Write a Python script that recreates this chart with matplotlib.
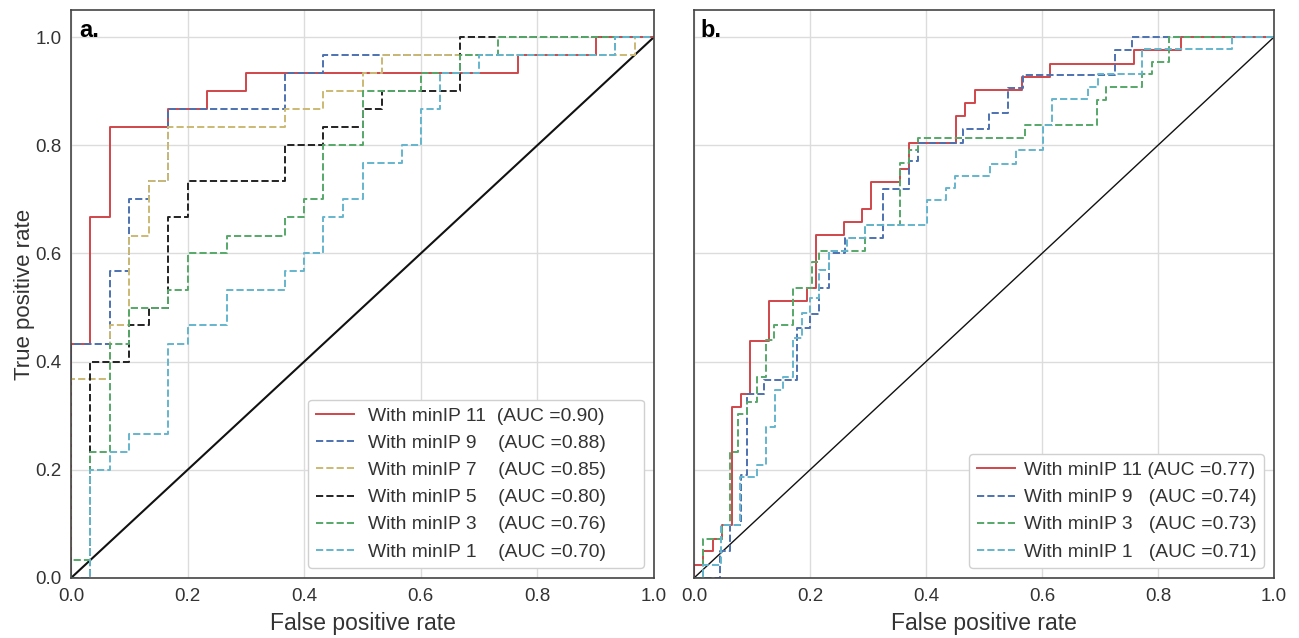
import matplotlib
matplotlib.use("Agg")
import matplotlib.pyplot as plt

plt.rcParams['font.family'] = ['Liberation Sans', 'DejaVu Sans']

# colours (seaborn-like colour codes r, b, y, k, g, c)
RED, BLUE, GOLD, BLACK, GREEN, CYAN = '#D0454A', '#4C72B0', '#CCB974', '#222222', '#55A868', '#64B5CD'

# ---- panel a: ROC points (top of each vertical step) ----
a_labels = ["With minIP 11  (AUC =0.90)      ", "With minIP 9    (AUC =0.88)",
            "With minIP 7    (AUC =0.85)", "With minIP 5    (AUC =0.80)",
            "With minIP 3    (AUC =0.76)", "With minIP 1    (AUC =0.70)"]
a11_fpr = [0, 0, 0.033, 0.067, 0.167, 0.233, 0.3, 0.767, 0.9, 1.0]
a11_tpr = [0, 0.433, 0.667, 0.833, 0.867, 0.9, 0.933, 0.967, 1.0, 1.0]
a9_fpr = [0, 0, 0.067, 0.1, 0.133, 0.167, 0.367, 0.433, 0.933, 1.0]
a9_tpr = [0, 0.433, 0.567, 0.7, 0.733, 0.867, 0.933, 0.967, 1.0, 1.0]
a7_fpr = [0, 0, 0.067, 0.1, 0.133, 0.167, 0.367, 0.433, 0.5, 0.533, 0.967, 1.0]
a7_tpr = [0, 0.367, 0.467, 0.633, 0.733, 0.833, 0.867, 0.9, 0.933, 0.967, 1.0, 1.0]
a5_fpr = [0, 0.033, 0.1, 0.133, 0.167, 0.2, 0.367, 0.433, 0.5, 0.533, 0.667, 1.0]
a5_tpr = [0, 0.4, 0.467, 0.5, 0.667, 0.733, 0.8, 0.833, 0.867, 0.9, 1.0, 1.0]
a3_fpr = [0, 0, 0.033, 0.067, 0.1, 0.167, 0.2, 0.267, 0.367, 0.4, 0.433, 0.5, 0.6, 0.667, 0.733, 1.0]
a3_tpr = [0, 0.033, 0.233, 0.433, 0.5, 0.533, 0.6, 0.633, 0.667, 0.7, 0.8, 0.9, 0.933, 0.967, 1.0, 1.0]
a1_fpr = [0, 0.033, 0.067, 0.1, 0.167, 0.2, 0.267, 0.367, 0.4, 0.433, 0.467, 0.5, 0.567, 0.6,
          0.633, 0.7, 0.933, 1.0]
a1_tpr = [0, 0.2, 0.233, 0.267, 0.433, 0.467, 0.533, 0.567, 0.6, 0.667, 0.7, 0.767, 0.8, 0.867,
          0.933, 0.967, 1.0, 1.0]

# ---- panel b ----
b_labels = ["With minIP 11 (AUC =0.77)", "With minIP 9   (AUC =0.74)",
            "With minIP 3   (AUC =0.73)", "With minIP 1   (AUC =0.71)"]
b11_fpr = [0, 0, 0.016, 0.032, 0.048, 0.065, 0.081, 0.097, 0.129, 0.194, 0.210, 0.258, 0.290,
           0.306, 0.355, 0.371, 0.452, 0.468, 0.484, 0.565, 0.613, 0.758, 0.839, 1.0]
b11_tpr = [0, 0.024, 0.049, 0.073, 0.098, 0.317, 0.341, 0.439, 0.512, 0.537, 0.634, 0.659, 0.683,
           0.732, 0.756, 0.805, 0.854, 0.878, 0.902, 0.927, 0.951, 0.976, 1.0, 1.0]
b9_fpr = [0, 0.045, 0.062, 0.081, 0.092, 0.121, 0.178, 0.2, 0.216, 0.232, 0.26, 0.325, 0.37,
          0.387, 0.463, 0.508, 0.542, 0.567, 0.726, 0.756, 1.0]
b9_tpr = [0, 0.049, 0.098, 0.19, 0.341, 0.366, 0.463, 0.488, 0.537, 0.6, 0.628, 0.72, 0.77,
          0.805, 0.83, 0.86, 0.905, 0.93, 0.976, 1.0, 1.0]
b3_fpr = [0, 0.016, 0.048, 0.062, 0.076, 0.092, 0.108, 0.124, 0.138, 0.171, 0.203, 0.216, 0.294,
          0.356, 0.371, 0.387, 0.571, 0.694, 0.711, 0.772, 0.789, 0.819, 1.0]
b3_tpr = [0, 0.073, 0.098, 0.233, 0.304, 0.326, 0.372, 0.44, 0.468, 0.537, 0.585, 0.604, 0.652,
          0.768, 0.791, 0.813, 0.838, 0.884, 0.907, 0.931, 0.953, 1.0, 1.0]
b1_fpr = [0, 0.016, 0.046, 0.079, 0.108, 0.124, 0.14, 0.154, 0.17, 0.186, 0.2, 0.216, 0.232,
          0.263, 0.295, 0.401, 0.434, 0.45, 0.51, 0.555, 0.602, 0.618, 0.68, 0.697, 0.772, 0.927, 1.0]
b1_tpr = [0, 0.024, 0.098, 0.187, 0.209, 0.28, 0.347, 0.372, 0.443, 0.489, 0.517, 0.569, 0.604,
          0.628, 0.652, 0.699, 0.721, 0.744, 0.766, 0.791, 0.838, 0.885, 0.908, 0.931, 0.977, 1.0, 1.0]

W, H = 1299, 638
fig = plt.figure(figsize=(W / 100, H / 100), dpi=100)
ax1 = fig.add_axes([71 / W, 60 / H, 583 / W, 568 / H])
ax2 = fig.add_axes([694 / W, 60 / H, 580 / W, 568 / H])

a_series = [(a11_fpr, a11_tpr, RED, '-'), (a9_fpr, a9_tpr, BLUE, '--'),
            (a7_fpr, a7_tpr, GOLD, '--'), (a5_fpr, a5_tpr, BLACK, '--'),
            (a3_fpr, a3_tpr, GREEN, '--'), (a1_fpr, a1_tpr, CYAN, '--')]
b_series = [(b11_fpr, b11_tpr, RED, '-'), (b9_fpr, b9_tpr, BLUE, '--'),
            (b3_fpr, b3_tpr, GREEN, '--'), (b1_fpr, b1_tpr, CYAN, '--')]

for ax, series, labels, diag_lw, tpad in [(ax1, a_series, a_labels, 1.5, 0.7),
                                          (ax2, b_series, b_labels, 1.0, 0.45)]:
    ax.plot([0, 1], [0, 1], color='#111111', lw=diag_lw, zorder=1)
    for (fpr, tpr, col, ls), lab in zip(series, labels):
        ax.plot(fpr, tpr, color=col, ls=ls, lw=1.4, drawstyle='steps-post', label=lab, zorder=2)
    ax.set_xlim(0, 1)
    ax.set_ylim(0, 1.05)
    ax.set_xticks([0, 0.2, 0.4, 0.6, 0.8, 1.0])
    ax.set_yticks([0, 0.2, 0.4, 0.6, 0.8, 1.0])
    ax.grid(True, color='#dcdcdc', lw=1)
    ax.set_axisbelow(True)
    ax.tick_params(length=0, labelsize=13.5, pad=7, colors='#333333')
    for s in ax.spines.values():
        s.set_color('#444444')
        s.set_linewidth(1.2)
    ax.set_xlabel('False positive rate', fontsize=16.5, color='#333333', labelpad=5)
    leg = ax.legend(loc='lower right', fontsize=13.9, handlelength=2.0, handletextpad=tpad,
                    frameon=True, fancybox=True, framealpha=1, edgecolor='#d0d0d0',
                    borderaxespad=0.5, labelspacing=0.5, borderpad=0.4)
    for t in leg.get_texts():
        t.set_color('#333333')

ax1.set_ylabel('True positive rate', fontsize=16, color='#333333', labelpad=0)
ax2.set_yticklabels([])
ax1.text(0.015, 0.985, 'a.', transform=ax1.transAxes, fontsize=17, fontweight='bold', va='top')
ax2.text(0.012, 0.985, 'b.', transform=ax2.transAxes, fontsize=17, fontweight='bold', va='top')

fig.savefig('out.png', dpi=100)
